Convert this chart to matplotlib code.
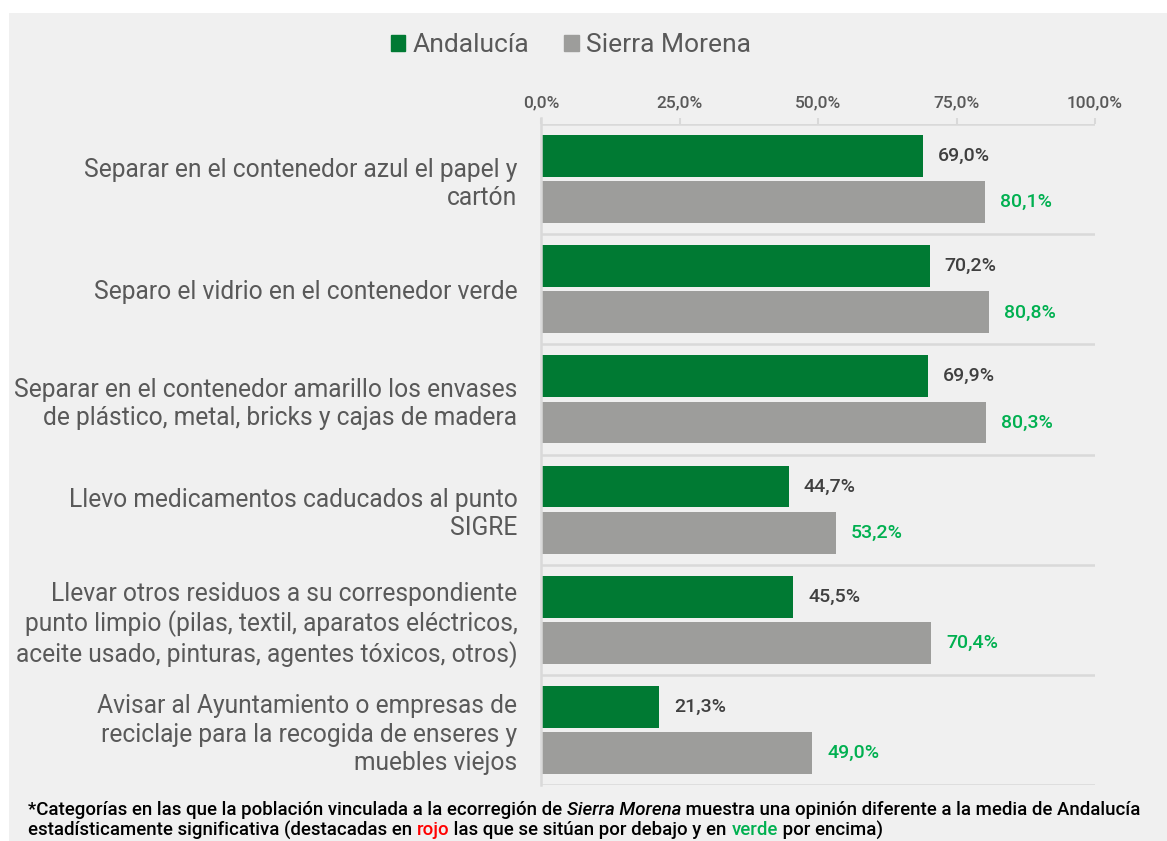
import matplotlib
matplotlib.use("Agg")
import matplotlib.pyplot as plt
import numpy as np
from matplotlib.patches import Patch, Rectangle
from matplotlib.ticker import FuncFormatter

# data
categories = [
    "Separar en el contenedor azul el papel y\ncartón",
    "Separo el vidrio en el contenedor verde",
    "Separar en el contenedor amarillo los envases\nde plástico, metal, bricks y cajas de madera",
    "Llevo medicamentos caducados al punto\nSIGRE",
    "Llevar otros residuos a su correspondiente\npunto limpio (pilas, textil, aparatos eléctricos,\naceite usado, pinturas, agentes tóxicos, otros)",
    "Avisar al Ayuntamiento o empresas de\nreciclaje para la recogida de enseres y\nmuebles viejos",
]
andalucia = [69.0, 70.2, 69.9, 44.7, 45.5, 21.3]
sierra_morena = [80.1, 80.8, 80.3, 53.2, 70.4, 49.0]
series_names = ["Andalucía", "Sierra Morena"]
x_ticks = [0, 25, 50, 75, 100]

GREEN = "#007a33"
GREY_BAR = "#9d9d9b"
TEXT = "#595959"
VALUE_DARK = "#404040"
VALUE_GREEN = "#00b050"
GRID = "#d9d9d9"
BG = "#f0f0f0"

plt.rcParams['font.family'] = ['Roboto', 'DejaVu Sans']

W, H = 1167, 841
fig = plt.figure(figsize=(W / 100, H / 100), dpi=100)
fig.patch.set_facecolor("white")
# grey panel behind everything
fig.patches.append(Rectangle((9 / W, 0), 1 - 9 / W, 1 - 13 / H, transform=fig.transFigure,
                             facecolor=BG, edgecolor="none", zorder=-10))

ax = fig.add_axes([541 / W, 1 - 785 / H, (1095 - 541) / W, (785 - 124) / H])
ax.set_facecolor("none")

y = np.arange(len(categories))
bar_h = 0.38
off = 0.21
ax.barh(y - off, andalucia, height=bar_h, color=GREEN, label=series_names[0])
ax.barh(y + off, sierra_morena, height=bar_h, color=GREY_BAR, label=series_names[1])

for yi, a, s in zip(y, andalucia, sierra_morena):
    ax.text(a + 2.7, yi - off, f"{a:.1f}%".replace(".", ","), va="center", ha="left",
            fontsize=14, color=VALUE_DARK, fontweight="medium")
    ax.text(s + 2.7, yi + off, f"{s:.1f}%".replace(".", ","), va="center", ha="left",
            fontsize=14, color=VALUE_GREEN, fontweight="medium")

ax.set_xlim(0, 100)
ax.set_ylim(len(categories) - 0.5, -0.5)
ax.set_xticks(x_ticks)
ax.xaxis.set_major_formatter(FuncFormatter(lambda v, p: f"{v:.1f}%".replace(".", ",")))
ax.xaxis.tick_top()
ax.tick_params(axis="x", length=4, width=1.5, color=GRID, pad=6, labelsize=12.5,
               labelcolor=TEXT)
for lbl in ax.get_xticklabels():
    lbl.set_fontweight("medium")

ax.set_yticks(y)
ax.set_yticklabels(categories, fontsize=17.7, color=TEXT, linespacing=1.22)
ax.tick_params(axis="y", length=0, pad=17)
ax.set_yticks(np.arange(-0.5, len(categories)), minor=True)
ax.tick_params(axis="y", which="minor", length=0)
ax.grid(axis="y", which="minor", color=GRID, linewidth=1.8)
ax.set_axisbelow(True)

for side in ["right", "bottom", "top"]:
    ax.spines[side].set_visible(False)
ax.spines["left"].set_color(GRID)
ax.spines["left"].set_linewidth(1.8)
ax.spines["left"].set_bounds(len(categories) - 0.5, -0.55)

handles = [Patch(color=GREEN), Patch(color=GREY_BAR)]
fig.legend(handles, series_names, loc="center", bbox_to_anchor=(571 / W, 1 - 45 / H), ncol=2,
           frameon=False, fontsize=19, labelcolor=TEXT, handlelength=0.55, handleheight=0.55,
           handletextpad=0.3, columnspacing=1.3)

# footnote built from pieces so that parts can be italic / coloured
fig.canvas.draw()
renderer = fig.canvas.get_renderer()
note_lines = [
    [("*Categorías en las que la población vinculada a la ecorregión de ", "normal", "black"),
     ("Sierra Morena", "italic", "black"),
     (" muestra una opinión diferente a la media de Andalucía", "normal", "black")],
    [("estadísticamente significativa (destacadas en ", "normal", "black"),
     ("rojo", "normal", "#ff0000"),
     (" las que se sitúan por debajo y en ", "normal", "black"),
     ("verde", "normal", "#00b050"),
     (" por encima)", "normal", "black")],
]
for row, pieces in enumerate(note_lines):
    x_px = 28
    y_fig = 1 - (810 + row * 20) / H
    for txt, style, col in pieces:
        t = fig.text(x_px / W, y_fig, txt, fontsize=13.4, style=style, color=col,
                     fontweight="medium", va="center", ha="left")
        x_px += t.get_window_extent(renderer).width

fig.savefig("out.png", dpi=100, facecolor=fig.get_facecolor())
